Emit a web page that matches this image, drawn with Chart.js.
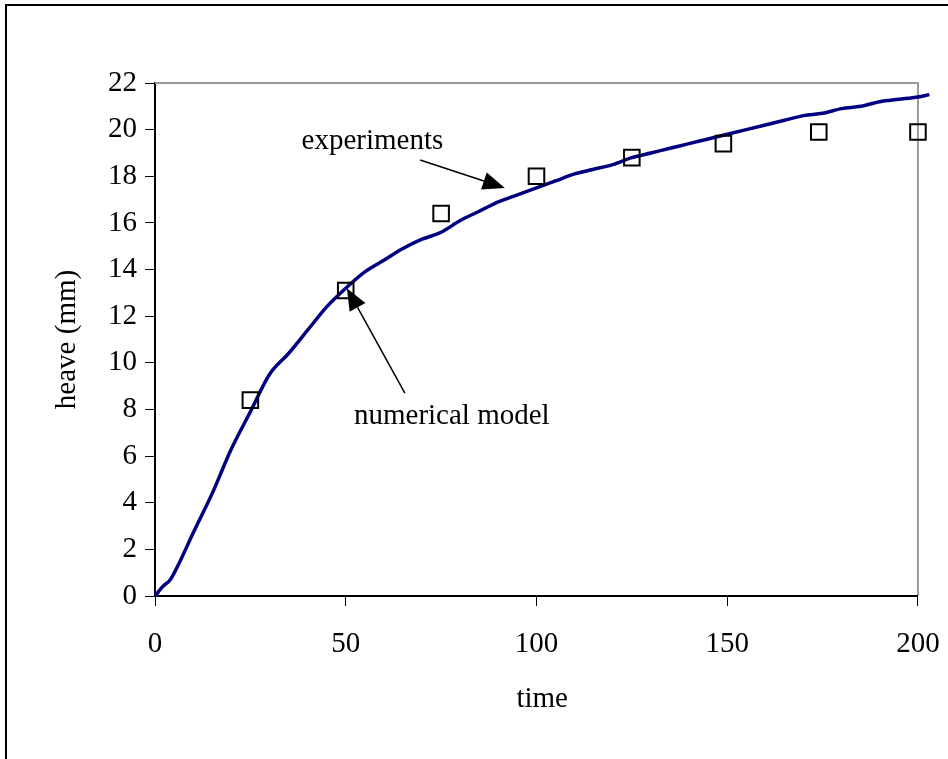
<!DOCTYPE html>
<html>
<head>
<meta charset="utf-8">
<script src="https://cdn.jsdelivr.net/npm/chart.js@4.4.0/dist/chart.umd.min.js"></script>
<style>
    html, body { margin: 0; padding: 0; background: #fff; }
    #wrap { width: 948px; height: 759px; position: relative; }
</style>
</head>
<body>
<div id="wrap"><canvas id="heaveChart" width="948" height="759"></canvas></div>
<script>
// Numerical model curve (time, heave in mm)
const modelTime = [0, 2, 4, 6, 10, 15, 20, 25, 30, 35, 40, 45, 50, 55, 60, 65, 70, 75, 80, 85, 90, 95, 100,
    105, 110, 115, 120, 125, 130, 135, 140, 145, 150, 155, 160, 165, 170, 175, 180, 185, 190, 195, 200, 203];
const modelHeave = [0, 0.4, 0.7, 1.3, 2.7, 4.4, 6.3, 7.9, 9.5, 10.4, 11.4, 12.4, 13.2, 13.9, 14.4, 14.9, 15.3, 15.6, 16.1, 16.5, 16.9, 17.2, 17.5,
    17.8, 18.1, 18.3, 18.5, 18.8, 19.0, 19.2, 19.4, 19.6, 19.8, 20.0, 20.2, 20.4, 20.6, 20.7, 20.9, 21.0, 21.2, 21.3, 21.4, 21.5];

// Measured points
const expTime = [25, 50, 75, 100, 125, 149, 174, 200];
const expHeave = [8.4, 13.1, 16.4, 18.0, 18.8, 19.4, 19.9, 19.9];

// Axis ticks (the model curve runs a little past the last tick)
const xTicks = [0, 50, 100, 150, 200];
const yTicks = [0, 2, 4, 6, 8, 10, 12, 14, 16, 18, 20, 22];
const X_END = 203;

// Labels with arrows, in data units
const notes = [
    { text: 'experiments', tx: 57, ty: 19.5, from: [69.5, 18.7], to: [91.7, 17.5] },
    { text: 'numerical model', tx: 77.8, ty: 7.7, from: [65.5, 8.7], to: [50.3, 13.2] }
];

const FONT = "'Liberation Serif', 'Times New Roman', serif";
const FSIZE = 29;

// Outer frame, gray plot frame and the x axis line (ends at the last tick)
const framePlugin = {
    id: 'frame',
    beforeDraw(chart) {
        const ctx = chart.ctx;
        ctx.save();
        ctx.fillStyle = '#fff';
        ctx.fillRect(0, 0, chart.width, chart.height);
        ctx.strokeStyle = '#000';
        ctx.lineWidth = 2;
        ctx.beginPath();
        ctx.moveTo(6, chart.height);
        ctx.lineTo(6, 5);
        ctx.lineTo(chart.width, 5);
        ctx.stroke();
        ctx.restore();
    },
    beforeDatasetsDraw(chart) {
        const a = chart.chartArea;
        const ctx = chart.ctx;
        const right = chart.scales.x.getPixelForValue(xTicks[xTicks.length - 1]);
        ctx.save();
        ctx.strokeStyle = '#999';
        ctx.lineWidth = 2;
        ctx.beginPath();
        ctx.moveTo(a.left, a.top);
        ctx.lineTo(right, a.top);
        ctx.lineTo(right, a.bottom);
        ctx.stroke();
        ctx.strokeStyle = '#000';
        ctx.beginPath();
        ctx.moveTo(a.left, a.bottom);
        ctx.lineTo(right, a.bottom);
        ctx.stroke();
        ctx.restore();
    }
};

function drawArrow(ctx, x1, y1, x2, y2) {
    const ang = Math.atan2(y2 - y1, x2 - x1);
    const len = 22, half = 9;
    const bx = x2 - len * Math.cos(ang), by = y2 - len * Math.sin(ang);
    ctx.beginPath();
    ctx.moveTo(x1, y1);
    ctx.lineTo(bx, by);
    ctx.stroke();
    ctx.beginPath();
    ctx.moveTo(x2, y2);
    ctx.lineTo(bx + half * Math.sin(ang), by - half * Math.cos(ang));
    ctx.lineTo(bx - half * Math.sin(ang), by + half * Math.cos(ang));
    ctx.closePath();
    ctx.fill();
}

const notesPlugin = {
    id: 'notes',
    afterDatasetsDraw(chart) {
        const ctx = chart.ctx;
        const xs = chart.scales.x, ys = chart.scales.y;
        ctx.save();
        ctx.fillStyle = '#000';
        ctx.strokeStyle = '#000';
        ctx.lineWidth = 1.5;
        ctx.font = FSIZE + 'px ' + FONT;
        ctx.textAlign = 'center';
        ctx.textBaseline = 'middle';
        notes.forEach(n => {
            ctx.fillText(n.text, xs.getPixelForValue(n.tx), ys.getPixelForValue(n.ty));
            drawArrow(ctx,
                xs.getPixelForValue(n.from[0]), ys.getPixelForValue(n.from[1]),
                xs.getPixelForValue(n.to[0]), ys.getPixelForValue(n.to[1]));
        });
        ctx.restore();
    }
};

const ctx = document.getElementById('heaveChart').getContext('2d');

new Chart(ctx, {
    type: 'scatter',
    data: {
        datasets: [{
            label: 'numerical model',
            data: modelTime.map((t, i) => ({ x: t, y: modelHeave[i] })),
            showLine: true,
            borderColor: '#000080',
            borderWidth: 3.5,
            pointRadius: 0,
            tension: 0.3,
            cubicInterpolationMode: 'monotone',
            clip: false,
            order: 2
        }, {
            label: 'experiments',
            data: expTime.map((t, i) => ({ x: t, y: expHeave[i] })),
            pointStyle: 'rect',
            pointRadius: 11,
            pointBorderWidth: 2,
            borderColor: '#000',
            backgroundColor: 'rgba(255,255,255,0)',
            clip: false,
            order: 1
        }]
    },
    options: {
        responsive: false,
        animation: false,
        layout: { padding: { left: 0, right: 18.6, top: 83, bottom: 0 } },
        plugins: {
            legend: { display: false },
            tooltip: { enabled: false }
        },
        scales: {
            x: {
                type: 'linear',
                min: 0,
                max: X_END,
                afterBuildTicks: axis => { axis.ticks = xTicks.map(v => ({ value: v })); },
                afterFit: axis => { axis.height = 163; axis.paddingLeft = 0; axis.paddingRight = 0; },
                border: { display: false },
                grid: { drawOnChartArea: false, drawTicks: true, tickLength: 10, color: '#000', lineWidth: 1 },
                ticks: { color: '#000', padding: 21, font: { family: FONT, size: FSIZE }, maxRotation: 0 },
                title: { display: true, text: 'time', color: '#000', padding: { top: 4, bottom: 42 }, font: { family: FONT, size: FSIZE } }
            },
            y: {
                type: 'linear',
                min: 0,
                max: 22,
                afterBuildTicks: axis => { axis.ticks = yTicks.map(v => ({ value: v })); },
                afterFit: axis => { axis.width = 155; axis.paddingTop = 0; axis.paddingBottom = 0; },
                border: { color: '#000', width: 2 },
                grid: { drawOnChartArea: false, drawTicks: true, tickLength: 10, color: '#000', lineWidth: 1 },
                ticks: { color: '#000', padding: 8, font: { family: FONT, size: FSIZE } },
                title: { display: true, text: 'heave (mm)', color: '#000', padding: { top: 50, bottom: 4 }, font: { family: FONT, size: FSIZE } }
            }
        }
    },
    plugins: [framePlugin, notesPlugin]
});
</script>
</body>
</html>
